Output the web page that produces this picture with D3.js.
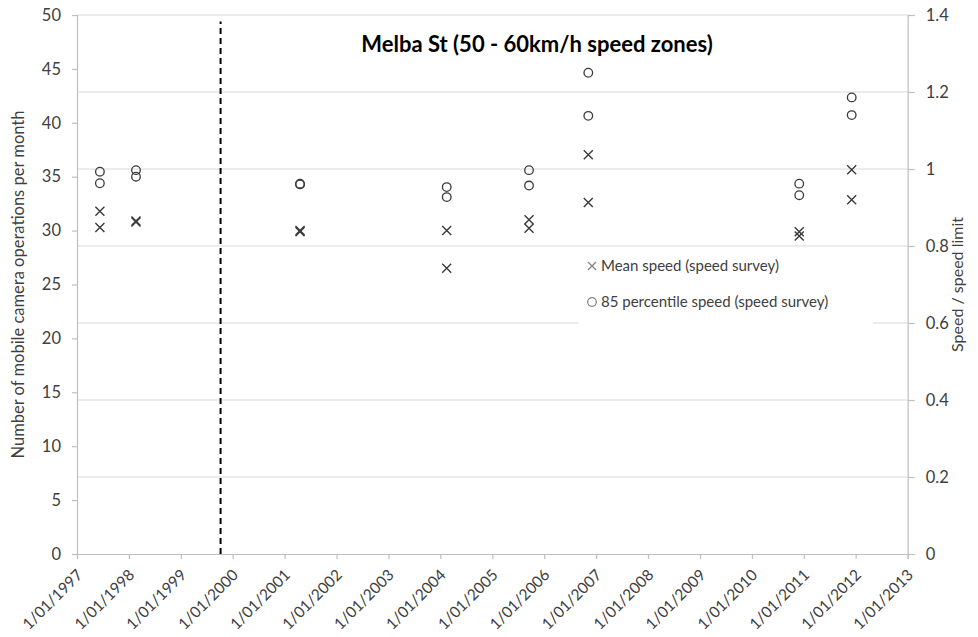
<!DOCTYPE html>
<html>
<head>
<meta charset="utf-8">
<script src="https://cdn.jsdelivr.net/npm/d3@7"></script>
<style>
  html, body { margin: 0; padding: 0; background: #fff; }
  svg { display: block; font-family: Lato, "Open Sans", sans-serif; }
</style>
</head>
<body>
<svg id="chart" width="978" height="637"></svg>
<script>
// ---- data ----
const chartTitle = "Melba St (50 - 60km/h speed zones)";
const leftAxisTitle = "Number of mobile camera operations per month";
const rightAxisTitle = "Speed / speed limit";
const surveyDates = ["1997-06-11", "1998-02-20", "2001-04-19", "2004-02-15", "2005-09-16", "2006-11-07", "2010-11-30", "2011-12-04"];
const meanSpeedA = [0.890, 0.865, 0.840, 0.840, 0.868, 1.037, 0.837, 0.998];
const meanSpeedB = [0.848, 0.862, 0.837, 0.742, 0.846, 0.913, 0.826, 0.920];
const p85SpeedA = [0.993, 0.997, 0.962, 0.953, 0.997, 1.250, 0.962, 1.186];
const p85SpeedB = [0.963, 0.980, 0.960, 0.927, 0.957, 1.138, 0.932, 1.140];
const cameraStartDate = "1999-10-08";
const cameraLineTop = 49.4;
const xTickYears = d3.range(1997, 2014);
const leftTicks = [0, 5, 10, 15, 20, 25, 30, 35, 40, 45, 50];
const rightTicks = [0, 0.2, 0.4, 0.6, 0.8, 1, 1.2, 1.4];
const legendLabels = ["Mean speed (speed survey)", "85 percentile speed (speed survey)"];

// ---- layout ----
const svg = d3.select("#chart");
const L = 77, R = 907.7, T = 15, B = 554;
const parse = d3.timeParse("%Y-%m-%d");

const x = d3.scaleTime().domain([new Date(1997, 0, 1), new Date(2013, 0, 1)]).range([L, R]);
const yL = d3.scaleLinear().domain([0, 50]).range([B, T]);
const yR = d3.scaleLinear().domain([0, 1.4]).range([B, T]);

const gridColor = "#d9d9d9", axisColor = "#bfbfbf", textColor = "#404040";

// gridlines (right axis)
svg.append("g").selectAll("line").data(rightTicks.filter(d => d > 0)).join("line")
  .attr("x1", L).attr("x2", R)
  .attr("y1", d => yR(d)).attr("y2", d => yR(d))
  .attr("stroke", gridColor).attr("stroke-width", 1.2);

// left axis
const gL = svg.append("g").attr("transform", `translate(${L},0)`)
  .call(d3.axisLeft(yL).tickValues(leftTicks).tickSize(5).tickPadding(11).tickFormat(d3.format("d")));
// right axis
const gR = svg.append("g").attr("transform", `translate(${R},0)`)
  .call(d3.axisRight(yR).tickValues(rightTicks).tickSize(7).tickPadding(11).tickFormat(d => d3.format("")(+d.toFixed(1))));
// bottom axis
const gB = svg.append("g").attr("transform", `translate(0,${B})`)
  .call(d3.axisBottom(x).tickValues(xTickYears.map(y => new Date(y, 0, 1))).tickSize(5).tickFormat(d => "1/01/" + d.getFullYear()));

[gL, gR, gB].forEach(g => {
  g.select(".domain").attr("stroke", axisColor).attr("stroke-width", 1.2);
  g.selectAll(".tick line").attr("stroke", axisColor).attr("stroke-width", 1.2);
  g.selectAll(".tick text").attr("fill", textColor).style("font-size", "16.5px").style("font-family", "Lato, sans-serif");
});
gB.selectAll(".tick text")
  .style("font-size", "15.5px")
  .attr("text-anchor", "end")
  .attr("dy", null).attr("y", 0)
  .attr("transform", "translate(6,22) rotate(-45)");

// dashed vertical line at camera program start
svg.append("line")
  .attr("x1", x(parse(cameraStartDate))).attr("x2", x(parse(cameraStartDate)))
  .attr("y1", yL(0)).attr("y2", yL(cameraLineTop))
  .attr("stroke", "#000").attr("stroke-width", 2).attr("stroke-dasharray", "6,4");

// markers
const markerColor = "#3a3a3a";
function crosses(values) {
  svg.append("g").selectAll("path").data(values).join("path")
    .attr("d", (v, i) => {
      const cx = x(parse(surveyDates[i])), cy = yR(v), s = 4.5;
      return `M${cx - s},${cy - s}L${cx + s},${cy + s}M${cx - s},${cy + s}L${cx + s},${cy - s}`;
    })
    .attr("stroke", markerColor).attr("stroke-width", 1.4).attr("fill", "none");
}
function circles(values) {
  svg.append("g").selectAll("circle").data(values).join("circle")
    .attr("cx", (v, i) => x(parse(surveyDates[i]))).attr("cy", v => yR(v)).attr("r", 4.3)
    .attr("stroke", markerColor).attr("stroke-width", 1.3).attr("fill", "none");
}
crosses(meanSpeedA); crosses(meanSpeedB);
circles(p85SpeedA); circles(p85SpeedB);

// legend
const lg = svg.append("g");
lg.append("rect").attr("x", 579).attr("y", 252).attr("width", 294).attr("height", 78).attr("fill", "#fff");
const lx = 592, ly1 = 266, ly2 = 302;
lg.append("path").attr("d", `M${lx - 4},${ly1 - 4}L${lx + 4},${ly1 + 4}M${lx - 4},${ly1 + 4}L${lx + 4},${ly1 - 4}`)
  .attr("stroke", "#808080").attr("stroke-width", 1.2);
lg.append("circle").attr("cx", lx).attr("cy", ly2).attr("r", 4.3).attr("fill", "none").attr("stroke", "#808080").attr("stroke-width", 1.2);
lg.selectAll("text").data(legendLabels).join("text")
  .attr("x", lx + 9).attr("y", (d, i) => i === 0 ? ly1 : ly2).attr("dy", "0.35em")
  .attr("fill", textColor).style("font-size", "15px").text(d => d);

// title
svg.append("text").attr("x", 537).attr("y", 52).attr("text-anchor", "middle")
  .attr("fill", "#000").style("font-size", "22px").style("font-weight", "bold").text(chartTitle);

// axis titles
svg.append("text").attr("transform", `translate(24,${(T + B) / 2}) rotate(-90)`)
  .attr("text-anchor", "middle").attr("fill", textColor).style("font-size", "16.5px").text(leftAxisTitle);
svg.append("text").attr("transform", `translate(963,${(T + B) / 2}) rotate(-90)`)
  .attr("text-anchor", "middle").attr("fill", textColor).style("font-size", "16px").text(rightAxisTitle);
</script>
</body>
</html>
